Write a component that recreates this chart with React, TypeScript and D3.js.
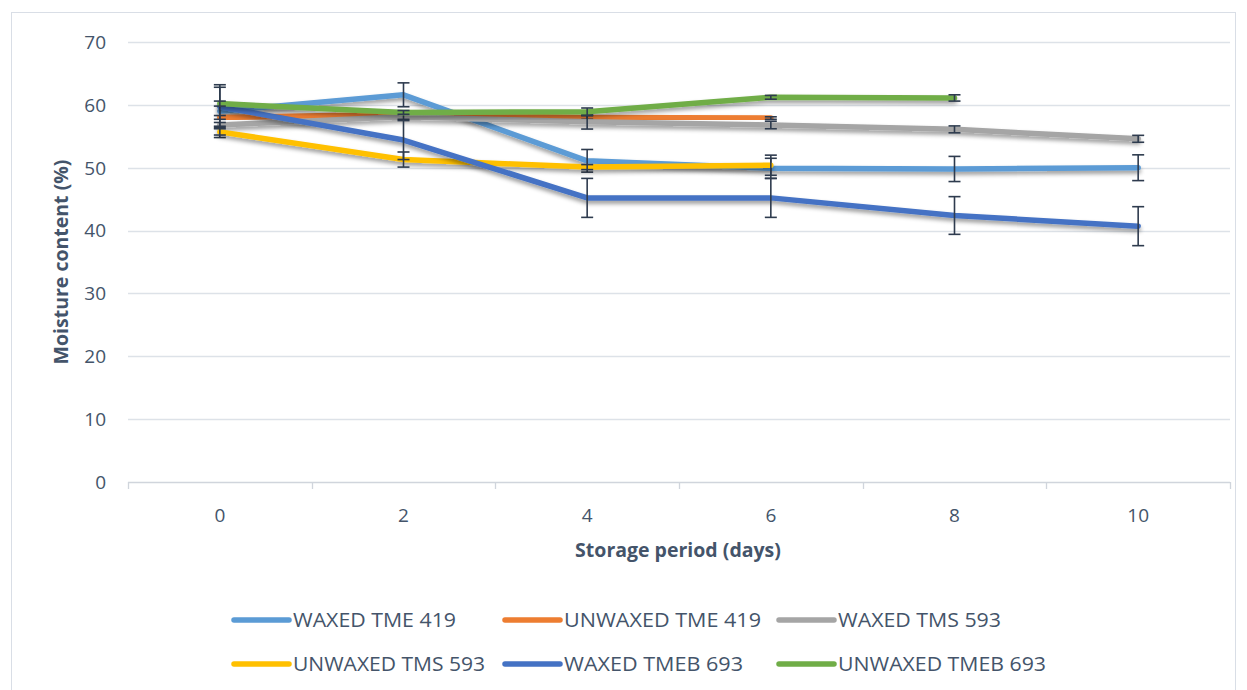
import * as d3 from "d3";
import React, { useEffect, useRef } from "react";

// storage days (categories)
const days = ["0", "2", "4", "6", "8", "10"];
const yTicks = [0, 10, 20, 30, 40, 50, 60, 70];

// moisture content (%) per series, null = no measurement
const waxedTme419 = [59.0, 61.6, 51.1, 49.9, 49.8, 50.0];
const waxedTme419Err = [4.2, 1.9, 1.8, 1.6, 2.0, 2.05];
const unwaxedTme419 = [58.0, 58.5, 58.0, 57.9, null, null];
const unwaxedTme419Err = [0.3, 0.3, 0.3, 0.2, null, null];
const waxedTms593 = [56.8, 58.1, 57.3, 56.8, 56.1, 54.6];
const waxedTms593Err = [0.4, 0.4, 1.15, 0.6, 0.55, 0.55];
const unwaxedTms593 = [55.7, 51.3, 50.1, 50.4, null, null];
const unwaxedTms593Err = [0.5, 1.2, 0.4, 1.6, null, null];
const waxedTmeb693 = [59.7, 54.4, 45.2, 45.2, 42.4, 40.7];
const waxedTmeb693Err = [3.1, 3.1, 3.1, 3.1, 3.0, 3.1];
const unwaxedTmeb693 = [60.2, 58.8, 58.9, 61.2, 61.1, null];
const unwaxedTmeb693Err = [0.4, 0.3, 0.6, 0.3, 0.5, null];

const seriesNames = [
  "WAXED TME 419",
  "UNWAXED TME 419",
  "WAXED TMS 593",
  "UNWAXED TMS 593",
  "WAXED TMEB 693",
  "UNWAXED TMEB 693",
];
const seriesValues = [waxedTme419, unwaxedTme419, waxedTms593, unwaxedTms593, waxedTmeb693, unwaxedTmeb693];
const seriesErrors = [waxedTme419Err, unwaxedTme419Err, waxedTms593Err, unwaxedTms593Err, waxedTmeb693Err, unwaxedTmeb693Err];
const colors = ["#5B9BD5", "#ED7D31", "#A5A5A5", "#FFC000", "#4472C4", "#70AD47"];

export default function App() {
  const ref = useRef<SVGSVGElement>(null);

  useEffect(() => {
    const W = 1247;
    const H = 690;
    const svg = d3.select(ref.current);
    svg.selectAll("*").remove();

    const textColor = "#44546A";
    const font = "'Open Sans', 'Liberation Sans', sans-serif";

    const defs = svg.append("defs");
    const f = defs
      .append("filter")
      .attr("id", "shadow")
      .attr("x", "-10%")
      .attr("y", "-50%")
      .attr("width", "120%")
      .attr("height", "200%");
    f.append("feDropShadow")
      .attr("dx", 0)
      .attr("dy", 3)
      .attr("stdDeviation", 2)
      .attr("flood-color", "#000")
      .attr("flood-opacity", 0.4);

    svg.append("rect").attr("width", W).attr("height", H).attr("fill", "#fff");
    // chart frame
    svg
      .append("rect")
      .attr("x", 11.5)
      .attr("y", 12.5)
      .attr("width", 1224)
      .attr("height", 720)
      .attr("fill", "none")
      .attr("stroke", "#D9DEE6")
      .attr("stroke-width", 1);

    const x = d3.scaleBand().domain(days).range([128, 1230]);
    const y = d3.scaleLinear().domain([0, 70]).range([482, 42]);
    const cx = (d: string) => (x(d) as number) + x.bandwidth() / 2;

    // gridlines
    svg
      .append("g")
      .selectAll("line")
      .data(yTicks.filter((t) => t > 0))
      .join("line")
      .attr("x1", 128)
      .attr("x2", 1230)
      .attr("y1", (d) => Math.round(y(d)) + 0.5)
      .attr("y2", (d) => Math.round(y(d)) + 0.5)
      .attr("stroke", "#DDE2E8")
      .attr("stroke-width", 1.3);

    // x axis line + tick marks
    const axisG = svg.append("g");
    axisG
      .append("line")
      .attr("x1", 128)
      .attr("x2", 1230)
      .attr("y1", y(0) + 0.5)
      .attr("y2", y(0) + 0.5)
      .attr("stroke", "#D0D5DC")
      .attr("stroke-width", 1.3);
    const boundaries = days.map((d) => x(d) as number).concat([x.range()[1]]);
    axisG
      .selectAll("line.tick")
      .data(boundaries)
      .join("line")
      .attr("class", "tick")
      .attr("x1", (d) => Math.round(d) + 0.5)
      .attr("x2", (d) => Math.round(d) + 0.5)
      .attr("y1", y(0))
      .attr("y2", y(0) + 7)
      .attr("stroke", "#D0D5DC")
      .attr("stroke-width", 1.3);

    // tick labels
    svg
      .append("g")
      .selectAll("text")
      .data(yTicks)
      .join("text")
      .attr("x", 106)
      .attr("y", (d) => y(d))
      .attr("dy", "0.36em")
      .attr("text-anchor", "end")
      .attr("font-family", font)
      .attr("font-size", 19)
      .attr("fill", textColor)
      .text((d) => d);
    svg
      .append("g")
      .selectAll("text")
      .data(days)
      .join("text")
      .attr("x", (d) => cx(d))
      .attr("y", 515)
      .attr("dy", "0.36em")
      .attr("text-anchor", "middle")
      .attr("font-family", font)
      .attr("font-size", 19)
      .attr("fill", textColor)
      .text((d) => d);

    // axis titles
    svg
      .append("text")
      .attr("x", 678)
      .attr("y", 550)
      .attr("dy", "0.36em")
      .attr("text-anchor", "middle")
      .attr("font-family", font)
      .attr("font-size", 19.5)
      .attr("font-weight", 700)
      .attr("fill", textColor)
      .text("Storage period (days)");
    svg
      .append("text")
      .attr("transform", "translate(61,262) rotate(-90)")
      .attr("dy", "0.36em")
      .attr("text-anchor", "middle")
      .attr("font-family", font)
      .attr("font-size", 19.5)
      .attr("font-weight", 700)
      .attr("fill", textColor)
      .text("Moisture content (%)");

    // series
    const line = d3
      .line<{ day: string; v: number | null }>()
      .defined((d) => d.v != null)
      .x((d) => cx(d.day))
      .y((d) => y(d.v as number));

    seriesValues.forEach((vals, i) => {
      const pts = days.map((day, j) => ({ day, v: vals[j], e: seriesErrors[i][j] }));
      const g = svg.append("g");
      g.append("path")
        .datum(pts)
        .attr("d", line as any)
        .attr("fill", "none")
        .attr("stroke", colors[i])
        .attr("stroke-width", 5.5)
        .attr("stroke-linecap", "round")
        .attr("stroke-linejoin", "round")
        .attr("filter", "url(#shadow)");

      const eb = g
        .selectAll("g.err")
        .data(pts.filter((p) => p.v != null && p.e != null))
        .join("g")
        .attr("class", "err")
        .attr("stroke", "#2E3B4E")
        .attr("stroke-width", 1.6);
      eb.append("line")
        .attr("x1", (d) => cx(d.day))
        .attr("x2", (d) => cx(d.day))
        .attr("y1", (d) => y((d.v as number) + (d.e as number)))
        .attr("y2", (d) => y((d.v as number) - (d.e as number)));
      [1, -1].forEach((s) => {
        eb.append("line")
          .attr("x1", (d) => cx(d.day) - 6)
          .attr("x2", (d) => cx(d.day) + 6)
          .attr("y1", (d) => y((d.v as number) + s * (d.e as number)))
          .attr("y2", (d) => y((d.v as number) + s * (d.e as number)));
      });
    });

    // legend: 3 columns x 2 rows, text widths matched to the original face
    const legendX = [234, 505, 779];
    const legendY = [620, 664];
    const legendTextW = [163, 197, 163, 192, 179, 208];
    const lg = svg
      .append("g")
      .selectAll("g")
      .data(seriesNames)
      .join("g")
      .attr("transform", (_, i) => `translate(${legendX[i % 3]},${legendY[Math.floor(i / 3)]})`);
    lg.append("line")
      .attr("x1", 0)
      .attr("x2", 55)
      .attr("stroke", (_, i) => colors[i])
      .attr("stroke-width", 5.5)
      .attr("stroke-linecap", "round");
    lg.append("text")
      .attr("x", 59)
      .attr("dy", "0.36em")
      .attr("font-family", font)
      .attr("font-size", 20.5)
      .attr("fill", textColor)
      .attr("textLength", (_, i) => legendTextW[i])
      .attr("lengthAdjust", "spacingAndGlyphs")
      .text((d) => d);
  }, []);

  return (
    <svg
      ref={ref}
      width={1247}
      height={690}
      style={{ position: "absolute", left: 0, top: 0, display: "block" }}
    />
  );
}
